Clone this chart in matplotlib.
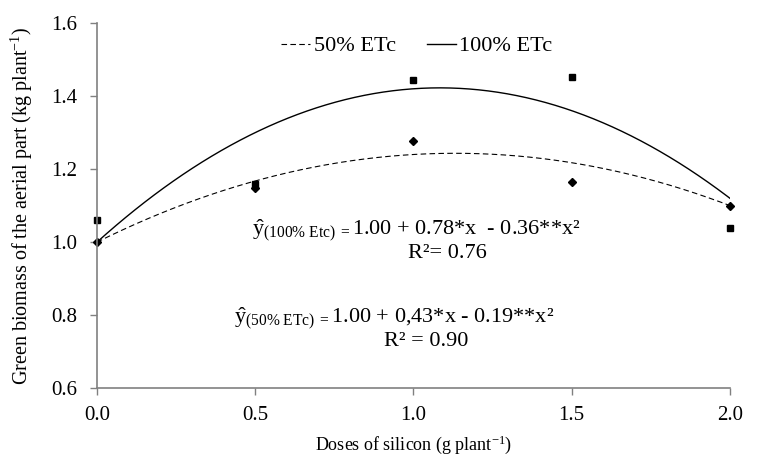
import matplotlib.pyplot as plt
import numpy as np

plt.rcParams['font.family'] = 'Liberation Serif'
plt.rcParams['mathtext.fontset'] = 'custom'
plt.rcParams['mathtext.rm'] = 'Liberation Serif'
plt.rcParams['mathtext.it'] = 'Liberation Serif:italic'

# doses de silicio y valores observados
doses = [0.0, 0.5, 1.0, 1.5, 2.0]
obs_100 = [1.06, 1.16, 1.443, 1.452, 1.038]
obs_50 = [1.00, 1.148, 1.276, 1.166, 1.098]

# coeficientes de las regresiones
coef_100 = [1.00, 0.78, -0.36]
coef_50 = [1.00, 0.43, -0.19]

fig = plt.figure(figsize=(7.58, 4.61), dpi=100)
ax = fig.add_axes([0.128, 0.158, 0.835, 0.792])

xs = np.linspace(0, 2, 200)
y100 = coef_100[0] + coef_100[1] * xs + coef_100[2] * xs ** 2
y50 = coef_50[0] + coef_50[1] * xs + coef_50[2] * xs ** 2

ax.plot(xs, y50, color='black', linestyle=(0, (5, 3)), linewidth=0.8, label='50% ETc')
ax.plot(xs, y100, color='black', linestyle='-', linewidth=1.0, label='100% ETc')
ax.plot(doses, obs_100, 's', color='black', markersize=5, clip_on=False)
ax.plot(doses, obs_50, 'D', color='black', markersize=3.8, clip_on=False)

ax.set_xlim(0, 2)
ax.set_ylim(0.6, 1.6)
ax.set_xticks([0.0, 0.5, 1.0, 1.5, 2.0])
ax.set_xticklabels(['0.0', '0.5', '1.0', '1.5', '2.0'])
ax.set_yticks([0.6, 0.8, 1.0, 1.2, 1.4, 1.6])
ax.set_yticklabels(['0.6', '0.8', '1.0', '1.2', '1.4', '1.6'])
ax.tick_params(labelsize=15, direction='out', length=5, color='#808080', width=1)
ax.tick_params(axis='x', pad=8)
ax.tick_params(axis='y', pad=9)

for s in ['top', 'right']:
    ax.spines[s].set_visible(False)
for s in ['left', 'bottom']:
    ax.spines[s].set_color('#808080')
    ax.spines[s].set_linewidth(1.2)

ax.set_ylabel('Green biomass of the aerial part (kg plant$^{-1}$)', fontsize=14.5, labelpad=12)
ax.set_xlabel('Doses of silicon (g plant$^{-1}$)', fontsize=13, labelpad=6)

ax.legend(loc='upper center', bbox_to_anchor=(0.505, 1.02), ncol=2, frameon=False,
          fontsize=16, handlelength=1.3, handletextpad=0.15, columnspacing=1.4)

ax.text(1.008, 1.030, r'$\hat{\mathrm{y}}_{\mathrm{(100\%\ Etc)\ =}}$1.00 + 0.78*x  - 0.36**x²',
        fontsize=16, ha='center', va='center')
ax.text(1.106, 0.968, 'R²= 0.76', fontsize=16, ha='center', va='center')
ax.text(0.938, 0.790, r'$\hat{\mathrm{y}}_{\mathrm{(50\%\ ETc)\ =}}$1.00 + 0,43*x - 0.19**x²',
        fontsize=16, ha='center', va='center')
ax.text(1.04, 0.729, 'R² = 0.90', fontsize=16, ha='center', va='center')

plt.savefig('out.png', dpi=100)
